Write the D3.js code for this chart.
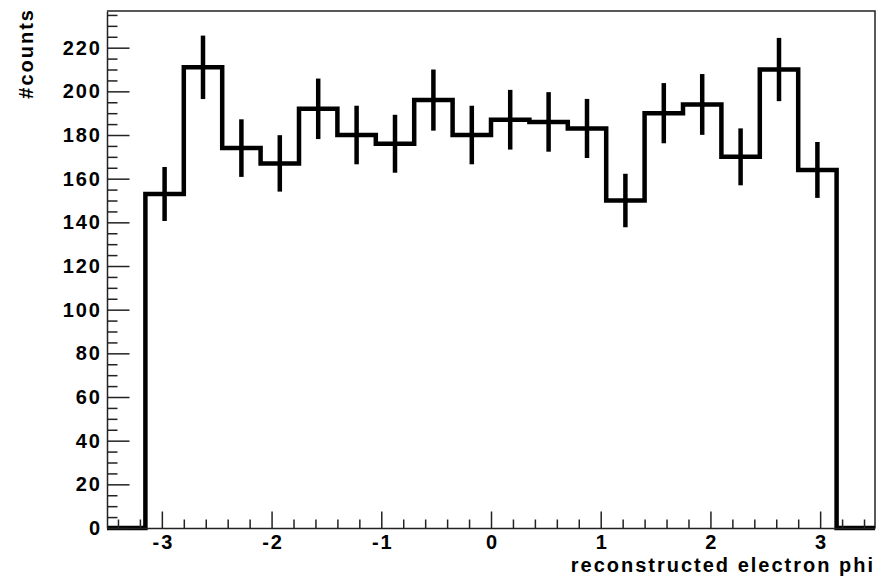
<!DOCTYPE html>
<html>
<head>
<meta charset="utf-8">
<script src="https://cdn.jsdelivr.net/npm/d3@7/dist/d3.min.js"></script>
<style>
  html, body { margin: 0; padding: 0; background: #fff; }
  svg { display: block; }
  text { font-family: "Liberation Sans", Arial, Helvetica, sans-serif; font-weight: bold; fill: #000; }
</style>
</head>
<body>
<svg id="chart" width="880" height="581"></svg>
<script>
// Histogram of reconstructed electron phi: 20 bins of width 0.35 over [-3.5, 3.5]
const binLow = -3.5;
const binWidth = 0.35;
const counts = [0, 153, 211, 174, 167, 192, 180, 176, 196, 180, 187, 186, 183, 150, 190, 194, 170, 210, 164, 0];

const xMajorTicks = [-3, -2, -1, 0, 1, 2, 3];
const xTickLabels = ["-3", "-2", "-1", "0", "1", "2", "3"];
const yMajorTicks = [0, 20, 40, 60, 80, 100, 120, 140, 160, 180, 200, 220];
const xTitle = "reconstructed electron phi";
const yTitle = "#counts";

const frame = { left: 107, right: 875, top: 11, bottom: 528 };
const fontSize = 20;
const spacing = 2;
const svg = d3.select("#chart");

const x = d3.scaleLinear().domain([binLow, binLow + binWidth * counts.length])
  .range([frame.left, frame.right]);
const yMax = 1.05 * d3.max(counts, c => c + Math.sqrt(c));
const y = d3.scaleLinear().domain([0, yMax]).range([frame.bottom, frame.top]);

// minor tick positions
const xMinor = d3.range(-34, 35, 2).map(v => v / 10).filter(v => Math.abs(v - Math.round(v)) > 1e-6);
const yMinor = d3.range(0, Math.floor(yMax) + 1, 5).filter(v => v % 20 !== 0);

// frame (top and right edges)
svg.append("path")
  .attr("d", `M${frame.left},${frame.top}H${frame.right}V${frame.bottom}`)
  .attr("fill", "none").attr("stroke", "#222").attr("stroke-width", 1.5);

// histogram outline
const bins = counts.map((c, i) => ({ x0: binLow + i * binWidth, x1: binLow + (i + 1) * binWidth, c }));
let d = `M${x(bins[0].x0)},${y(0)}`;
bins.forEach(b => { d += `V${y(b.c)}H${x(b.x1)}`; });
d += `V${y(0)}`;
svg.append("path").attr("d", d).attr("fill", "none")
  .attr("stroke", "#000").attr("stroke-width", 4.5).attr("stroke-linejoin", "miter");

// statistical error bars (sqrt N)
svg.append("g").selectAll("line").data(bins.filter(b => b.c > 0)).join("line")
  .attr("x1", b => x((b.x0 + b.x1) / 2)).attr("x2", b => x((b.x0 + b.x1) / 2))
  .attr("y1", b => y(b.c - Math.sqrt(b.c))).attr("y2", b => y(b.c + Math.sqrt(b.c)))
  .attr("stroke", "#000").attr("stroke-width", 4.5);

// x axis
const gx = svg.append("g").attr("transform", `translate(0,${frame.bottom})`);
gx.call(d3.axisBottom(x).tickValues(xMajorTicks).tickFormat((v, i) => xTickLabels[i])
  .tickSizeInner(-16.5).tickSizeOuter(0).tickPadding(7));
gx.append("g").call(d3.axisBottom(x).tickValues(xMinor).tickFormat("").tickSizeInner(-8.5).tickSizeOuter(0))
  .select(".domain").remove();
gx.selectAll(".tick text").attr("dx", spacing / 2);

// y axis
const gy = svg.append("g").attr("transform", `translate(${frame.left},0)`);
gy.call(d3.axisLeft(y).tickValues(yMajorTicks).tickFormat(d3.format("d"))
  .tickSizeInner(-22.5).tickSizeOuter(0).tickPadding(7));
gy.append("g").call(d3.axisLeft(y).tickValues(yMinor).tickFormat("").tickSizeInner(-10.5).tickSizeOuter(0))
  .select(".domain").remove();
gy.selectAll(".tick text").attr("dx", spacing);

svg.selectAll(".domain").attr("stroke", "#222").attr("stroke-width", 1.5);
svg.selectAll(".tick line").attr("stroke", "#222").attr("stroke-width", 1.5);
svg.selectAll(".tick text").attr("font-size", fontSize).attr("letter-spacing", spacing)
  .attr("font-family", "'Liberation Sans', Arial, Helvetica, sans-serif").attr("font-weight", "bold");

// axis titles
svg.append("text").attr("x", 873 + spacing).attr("y", 572).attr("text-anchor", "end")
  .attr("font-size", fontSize).attr("letter-spacing", spacing).text(xTitle);
svg.append("text").attr("transform", `translate(32.5,${10 - spacing}) rotate(-90)`).attr("text-anchor", "end")
  .attr("font-size", fontSize).attr("letter-spacing", spacing).text(yTitle);
</script>
</body>
</html>
